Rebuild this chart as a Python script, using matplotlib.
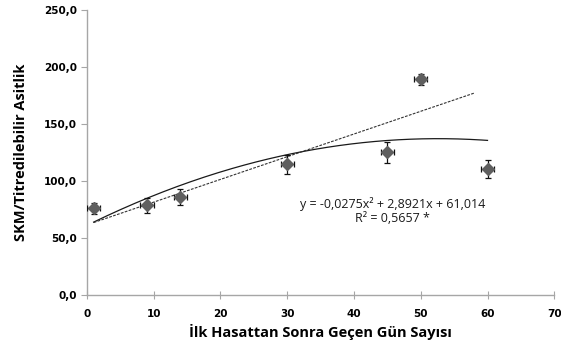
import numpy as np
import matplotlib
matplotlib.use("Agg")
import matplotlib.pyplot as plt

# days after first harvest vs. SKM / titratable acidity
days = [1, 9, 14, 30, 45, 50, 60]
ratio = [76.0, 78.5, 86.0, 114.5, 125.0, 189.0, 110.5]
ratio_err = [5.0, 6.5, 7.0, 8.0, 9.5, 4.5, 7.5]
days_err = [1.0, 1.0, 1.0, 1.0, 1.0, 1.0, 1.0]

# trendlines
quad_coef = [-0.0275, 2.8921, 61.014]
quad_range = [1, 60]
lin_x = [1, 58]
lin_y = [63.5, 177.0]

x_ticks = [0, 10, 20, 30, 40, 50, 60, 70]
y_ticks = [0, 50, 100, 150, 200, 250]

fig = plt.figure(figsize=(5.61, 3.52), dpi=100)
ax = fig.add_axes([0.155, 0.162, 0.833, 0.81])

xq = np.linspace(quad_range[0], quad_range[1], 200)
ax.plot(xq, np.polyval(quad_coef, xq), color="#1a1a1a", lw=0.9)
ax.plot(lin_x, lin_y, color="#333333", lw=0.8, ls=(0, (2.5, 1.2)))

ax.errorbar(days, ratio, yerr=ratio_err, xerr=days_err, fmt="D",
            color="#5f5f5f", ms=6, ecolor="#111111", elinewidth=0.9,
            capsize=2.5, capthick=0.9, zorder=3)

ax.set_xlim(0, 70)
ax.set_ylim(0, 250)
ax.set_xticks(x_ticks)
ax.set_yticks(y_ticks)
ax.set_xticklabels([str(v) for v in x_ticks])
ax.set_yticklabels([f"{v:.1f}".replace(".", ",") for v in y_ticks])

for side in ("top", "right"):
    ax.spines[side].set_visible(False)
for side in ("left", "bottom"):
    ax.spines[side].set_color("#a6a6a6")
    ax.spines[side].set_linewidth(1.0)
ax.tick_params(axis="y", direction="out", length=4, color="#a6a6a6",
               labelsize=7.5, pad=3)
ax.tick_params(axis="x", direction="inout", length=6, color="#a6a6a6",
               labelsize=7.5, pad=7)
for lab in ax.get_xticklabels() + ax.get_yticklabels():
    lab.set_fontweight("bold")
    lab.set_family("DejaVu Sans")

ax.set_xlabel("İlk Hasattan Sonra Geçen Gün Sayısı", fontsize=10.5,
              fontweight="bold", family="Open Sans", labelpad=4)
ax.set_ylabel("SKM/Titredilebilir Asitlik", fontsize=10.5,
              fontweight="bold", family="Open Sans", labelpad=12)

eq = "y = -0,0275x² + 2,8921x + 61,014\nR² = 0,5657 *"
ax.text(45.8, 74, eq, ha="center", va="center", fontsize=9,
        family="Open Sans", color="#1a1a1a", linespacing=1.1)

fig.savefig("out.png", dpi=100)
